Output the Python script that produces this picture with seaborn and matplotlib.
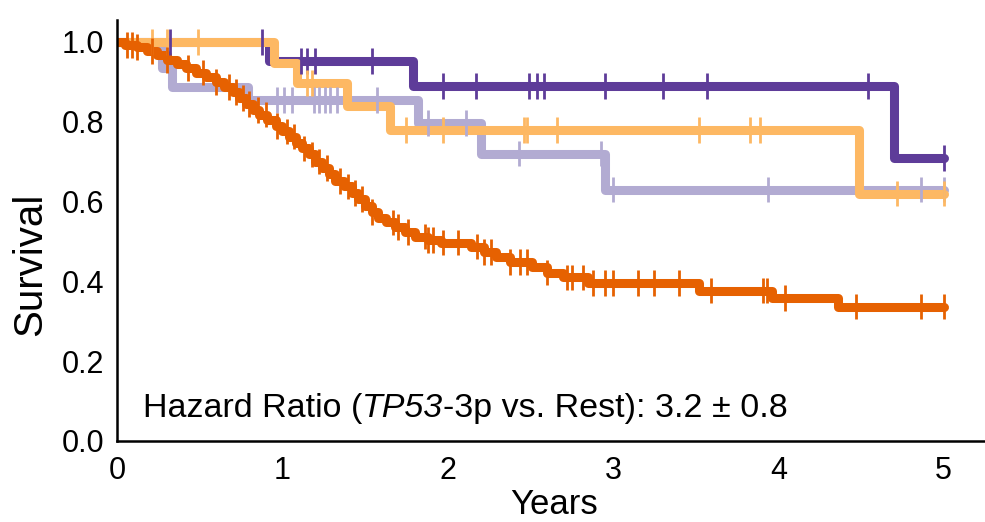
import numpy as np
import pandas as pd
import matplotlib
matplotlib.use("Agg")
import matplotlib.pyplot as plt
import seaborn as sns

# Kaplan-Meier step levels: (event time in years, survival after the event)
neither_times = [0.0, 0.27, 0.33, 0.79, 1.82, 2.20, 2.95]
neither_surv = [1.0, 0.935, 0.887, 0.855, 0.797, 0.720, 0.630]
neither_cens = [0.97, 1.01, 1.06, 1.19, 1.22, 1.26, 1.29, 1.33, 1.57, 1.88,
                2.11, 2.43, 2.93, 3.00, 3.94, 4.86, 5.00]

tp53_times = [0.0, 0.92, 1.79, 4.70]
tp53_surv = [1.0, 0.952, 0.890, 0.709]
tp53_cens = [0.32, 0.88, 1.11, 1.15, 1.20, 1.54, 1.97, 2.17, 2.49, 2.54,
             2.58, 2.95, 3.30, 3.57, 4.54, 5.00]

loss3p_times = [0.0, 0.95, 1.09, 1.39, 1.65, 4.49]
loss3p_surv = [1.0, 0.947, 0.897, 0.840, 0.780, 0.620]
loss3p_cens = [0.21, 0.30, 0.49, 1.15, 1.18, 1.75, 1.97, 2.46, 2.48, 2.66,
               3.52, 3.83, 3.89, 4.72, 5.00]

both_times = [0.0, 0.05, 0.12, 0.18, 0.24, 0.30, 0.36, 0.42, 0.48, 0.54,
              0.60, 0.65, 0.70, 0.74, 0.78, 0.82, 0.86, 0.91, 0.96, 1.00,
              1.04, 1.08, 1.12, 1.16, 1.20, 1.24, 1.28, 1.32, 1.37, 1.42,
              1.46, 1.50, 1.54, 1.58, 1.63, 1.68, 1.74, 1.80, 1.88, 1.96,
              2.14, 2.22, 2.29, 2.38, 2.51, 2.60, 2.70, 2.85, 3.52, 3.96,
              4.36]
both_surv = [1.0, 0.993, 0.987, 0.978, 0.968, 0.955, 0.945, 0.935, 0.923, 0.912,
             0.900, 0.887, 0.874, 0.860, 0.845, 0.830, 0.818, 0.805, 0.790, 0.776,
             0.763, 0.748, 0.733, 0.718, 0.700, 0.684, 0.668, 0.652, 0.638, 0.622,
             0.606, 0.590, 0.574, 0.560, 0.548, 0.536, 0.524, 0.512, 0.504, 0.497,
             0.487, 0.474, 0.460, 0.449, 0.436, 0.422, 0.410, 0.396, 0.377, 0.358,
             0.337]
both_cens = [0.06, 0.09, 0.12, 0.21, 0.30, 0.43, 0.52, 0.60, 0.68, 0.72,
             0.76, 0.80, 0.85, 0.90, 0.97, 1.03, 1.07, 1.13, 1.18, 1.22,
             1.27, 1.35, 1.40, 1.44, 1.48, 1.54, 1.67, 1.70, 1.76, 1.86,
             1.88, 1.91, 1.97, 2.06, 2.18, 2.22, 2.26, 2.38, 2.44, 2.48,
             2.60, 2.72, 2.75, 2.82, 2.88, 2.95, 3.00, 3.15, 3.25, 3.40,
             3.59, 3.91, 3.93, 4.04, 4.47, 4.86, 5.00]

follow_up_end = 5.0

curves = {
    "Neither": (neither_times, neither_surv, neither_cens),
    "TP53 only": (tp53_times, tp53_surv, tp53_cens),
    "3p loss only": (loss3p_times, loss3p_surv, loss3p_cens),
    "TP53-3p": (both_times, both_surv, both_cens),
}
order = ["Neither", "TP53 only", "3p loss only", "TP53-3p"]
palette = dict(zip(order, ["#b2abd2", "#5e3c99", "#fdb863", "#e66101"]))

step_rows, cens_rows = [], []
for name in order:
    t, s, c = curves[name]
    for ti, si in zip(list(t) + [follow_up_end], list(s) + [s[-1]]):
        step_rows.append((name, ti, si))
    t_arr = np.asarray(t)
    for ci in c:
        idx = np.searchsorted(t_arr, ci, side="right") - 1
        cens_rows.append((name, ci, s[idx]))

steps = pd.DataFrame(step_rows, columns=["group", "years", "survival"])
cens = pd.DataFrame(cens_rows, columns=["group", "years", "survival"])

sns.set_theme(style="white")
plt.rcParams["font.family"] = ["Liberation Sans", "DejaVu Sans"]

fig = plt.figure(figsize=(9.85, 5.22), dpi=100)
ax = fig.add_axes([117 / 985, 81 / 522, 868 / 985, 421 / 522])

sns.lineplot(data=steps, x="years", y="survival", hue="group", hue_order=order,
             palette=palette, estimator=None, sort=False, drawstyle="steps-post",
             linewidth=6.5, solid_joinstyle="round", legend=False, ax=ax)
sns.scatterplot(data=cens, x="years", y="survival", hue="group", hue_order=order,
                palette=palette, marker="|", s=340, linewidth=2, legend=False,
                ax=ax, zorder=3)

ax.set_xlim(0, 5.25)
ax.set_ylim(0, 1.055)
ax.set_xticks([0, 1, 2, 3, 4, 5])
ax.set_yticks([0.0, 0.2, 0.4, 0.6, 0.8, 1.0])
ax.set_yticklabels(["0.0", "0.2", "0.4", "0.6", "0.8", "1.0"])
for side in ["top", "right"]:
    ax.spines[side].set_visible(False)
for side in ["left", "bottom"]:
    ax.spines[side].set_linewidth(1.8)
    ax.spines[side].set_color("black")
ax.tick_params(direction="in", length=7, width=1, colors="black",
               labelsize=22, pad=9)
ax.tick_params(axis="x", pad=11)

ax.set_xlabel("Years", fontsize=25, color="black")
ax.set_ylabel("Survival", fontsize=29, color="black")
ax.xaxis.set_label_coords(0.503, -0.112)
ax.yaxis.set_label_coords(-0.078, 0.42)

# Hazard-ratio note, with the gene name set in italics
hr_kw = dict(fontsize=24.5, color="black", va="bottom", ha="left")
t1 = ax.text(0.157, 0.042, "Hazard Ratio (", **hr_kw)
t2 = ax.annotate("TP53", xy=(1, 0), xycoords=t1, style="italic", **hr_kw)
t3 = ax.annotate("-3p vs. Rest): 3.2 ± 0.8", xy=(1, 0), xycoords=t2, **hr_kw)

fig.savefig("out.png", dpi=100)
